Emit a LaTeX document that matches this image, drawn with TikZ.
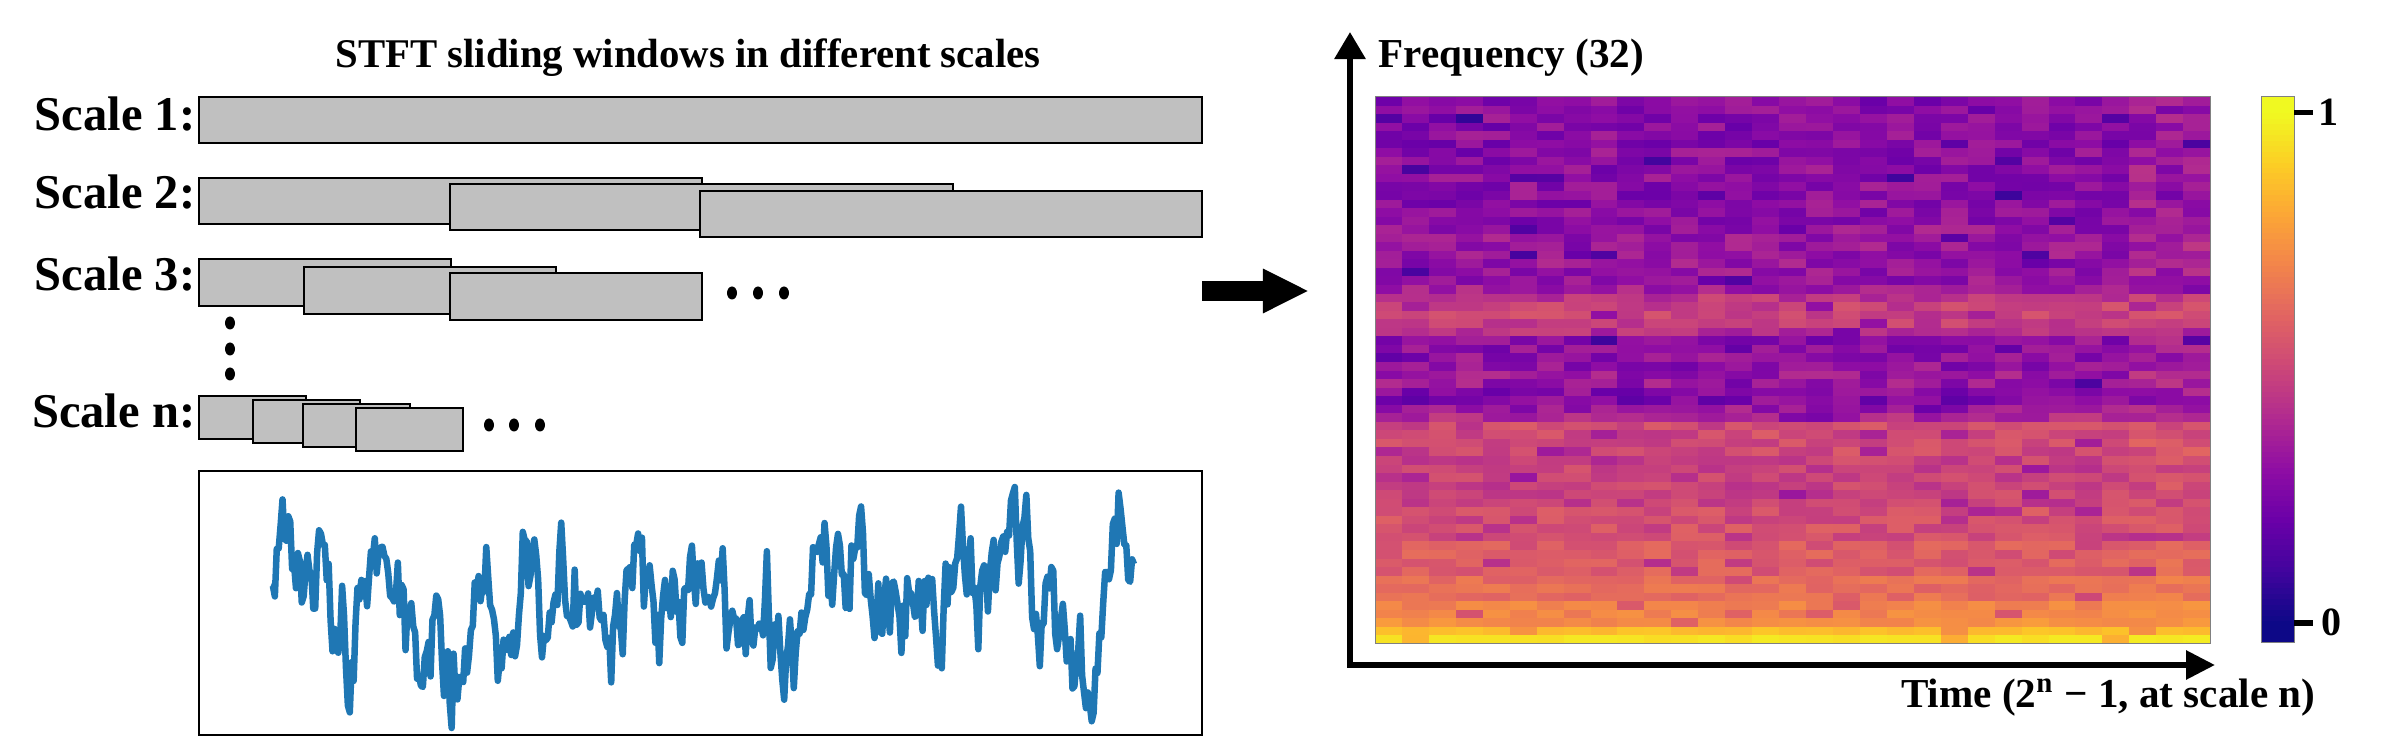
\documentclass[tikz,border=0pt]{standalone}
\usepackage{fontspec}
\setmainfont{Liberation Serif}
\usepackage{tikz}
\usetikzlibrary{arrows.meta,positioning,calc}

% plasma colour map, 11 stops
\definecolor{pl0}{RGB}{13,8,135}
\definecolor{pl1}{RGB}{65,4,157}
\definecolor{pl2}{RGB}{106,0,168}
\definecolor{pl3}{RGB}{143,13,164}
\definecolor{pl4}{RGB}{177,42,144}
\definecolor{pl5}{RGB}{204,71,120}
\definecolor{pl6}{RGB}{225,100,98}
\definecolor{pl7}{RGB}{242,132,75}
\definecolor{pl8}{RGB}{252,166,54}
\definecolor{pl9}{RGB}{252,206,37}
\definecolor{pl10}{RGB}{240,249,33}
\definecolor{pl11}{RGB}{240,249,33}
\definecolor{winGray}{RGB}{192,192,192}
\definecolor{sigBlue}{RGB}{31,119,180}

\newcommand{\setplasma}[1]{%
  \pgfmathsetmacro\plv{max(0,min(0.9999,#1))}%
  \pgfmathtruncatemacro\plk{floor(10*\plv)}%
  \pgfmathtruncatemacro\plkk{\plk+1}%
  \pgfmathsetmacro\plf{100*(10*\plv-\plk)}%
  \colorlet{plc}{pl\plkk!\plf!pl\plk}}

% mean level of each spectrogram row, top to bottom
\def\rowmean{{0.27,0.28,0.28,0.28,0.28,0.28,0.29,0.29,0.29,0.29,0.29,0.29,0.29,0.29,0.29,%
0.32,0.32,0.32,0.32,0.32,0.32,0.32,0.35,0.44,0.48,0.49,0.47,0.41,0.30,0.30,0.30,0.30,%
0.33,0.33,0.28,0.26,0.32,0.39,0.51,0.51,0.51,0.51,0.48,0.48,0.48,0.48,0.48,0.48,%
0.53,0.53,0.53,0.53,0.57,0.57,0.57,0.57,0.63,0.63,0.63,0.70,0.70,0.73,0.86,0.95}}

\tikzset{
  win/.style={draw=black, fill=winGray, line width=0.025cm},
  scalelbl/.style={font=\fontsize{13.8}{16}\selectfont\bfseries, inner sep=0pt},
  titlelbl/.style={font=\fontsize{11.6}{14}\selectfont\bfseries, inner sep=0pt},
  axislbl/.style={font=\fontsize{11.7}{14}\selectfont\bfseries, inner sep=0pt},
  ticklbl/.style={font=\fontsize{11.4}{13}\selectfont\bfseries, inner sep=0pt},
  dot/.style={fill=black},
  axisline/.style={line width=0.06cm, {Triangle[length=0.27cm,width=0.30cm]}-{Triangle[length=0.29cm,width=0.28cm]}},
}

\begin{document}
\begin{tikzpicture}[x=0.01cm, y=-0.01cm]
\useasboundingbox (0,0) rectangle (2396,743);

% left panel: windows
\node[titlelbl, anchor=base] (title) at (688,68) {STFT sliding windows in different scales};

\node[scalelbl, anchor=base east] (sc1) at (196,131) {Scale 1:};
\node[scalelbl, anchor=base east] (sc2) at (196,209) {Scale 2:};
\node[scalelbl, anchor=base east] (sc3) at (196,291) {Scale 3:};
\node[scalelbl, anchor=base east] (scn) at (196,428) {Scale n:};

\draw[win] (199,97) rectangle (1202,143);

\draw[win] (199,178) rectangle ++(503,46);
\draw[win] (450,184) rectangle ++(503,46);
\draw[win] (700,191) rectangle ++(502,46);

\draw[win] (199,259) rectangle ++(252,47);
\draw[win] (304,267) rectangle ++(252,47);
\draw[win] (450,273) rectangle ++(252,47);
\foreach \x in {732,758,784} \fill[dot] (\x,293) ellipse [x radius=5, y radius=6.5];

\foreach \y in {323,349,374} \fill[dot] (230,\y) ellipse [x radius=5, y radius=6.5];

\foreach \x/\y in {199/396,253/400,303/404,356/408}
  \draw[win] (\x,\y) rectangle ++(107,43);
\foreach \x in {489,514,540} \fill[dot] (\x,425) ellipse [x radius=5, y radius=6.5];

% signal
\draw[line width=0.025cm] (199,471) rectangle (1202,735);
\pgfmathsetseed{21}
\gdef\sv{0.6}\gdef\fv{0}\gdef\smin{100}\gdef\smax{-100}
\foreach \t in {0,...,449}{
  \pgfmathsetmacro\snew{0.9*\sv+0.3*rand}
  \pgfmathsetmacro\fnew{0.55*\fv+0.25*rand}
  \pgfmathsetmacro\sout{\snew+\fnew}
  \xdef\sv{\snew}\xdef\fv{\fnew}
  \expandafter\xdef\csname sig\t\endcsname{\sout}
  \pgfmathsetmacro\a{min(\smin,\sout)}\xdef\smin{\a}
  \pgfmathsetmacro\b{max(\smax,\sout)}\xdef\smax{\b}
}
\pgfmathsetmacro\sspan{\smax-\smin}
\gdef\sigpath{}
\foreach \t in {0,...,449}{
  \pgfmathsetmacro\px{271+1.9220*\t}
  \pgfmathsetmacro\py{728-241*((\csname sig\t\endcsname-\smin)/\sspan)}
  \ifnum\t=0 \xdef\sigpath{(\px,\py)}\else \xdef\sigpath{\sigpath -- (\px,\py)}\fi
}
\draw[sigBlue, line width=0.065cm, line join=round] \sigpath;

% big arrow
\coordinate (fatL) at (1202,291);
\coordinate (fatR) at (1309,291);
\draw[line width=0.2cm, -{Triangle[length=0.46cm,width=0.41cm]}] (fatL) -- (fatR);

% right panel: spectrogram
\pgfmathsetseed{11}
\foreach \r in {0,...,63}{
  \pgfmathsetmacro\m{\rowmean[\r]}
  \foreach \c in {0,...,30}{
    \setplasma{\m+0.11*rand*(1.1-\m)+(\c>27)*0.07*(1-\m)-(rnd>0.93)*0.12}
    \fill[plc] (1375+26.94*\c,97+8.547*\r) rectangle ++(27.3,8.9);
  }
}
\draw[gray, line width=0.01cm] (1375,97) rectangle (2210,644);

\coordinate (ytop) at (1350,32);
\coordinate (origin) at (1350,665);
\coordinate (xend) at (2215,665);
\draw[axisline] (ytop) -- (origin) -- (xend);
\node[axislbl, anchor=base west] (freq) at (1378,68) {Frequency (32)};
\node[axislbl, anchor=base east] (time) at (2316,708) {Time (2\textsuperscript{n} − 1, at scale n)};

% colour bar
\foreach \s in {0,...,99}{
  \setplasma{(623-(643-5.46*(\s+0.5)))/510}
  \fill[plc] (2261,643-5.46*\s) rectangle (2294,643-5.46*\s-5.8);
}
\draw[gray, line width=0.01cm] (2261,97) rectangle (2294,643);
\draw[line width=0.05cm] (2294,113) -- (2313,113);
\draw[line width=0.05cm] (2294,623) -- (2313,623);
\node[ticklbl, anchor=west] (one) at (2318,112) {1};
\node[ticklbl, anchor=west] (zero) at (2321,622) {0};
\end{tikzpicture}
\end{document}
